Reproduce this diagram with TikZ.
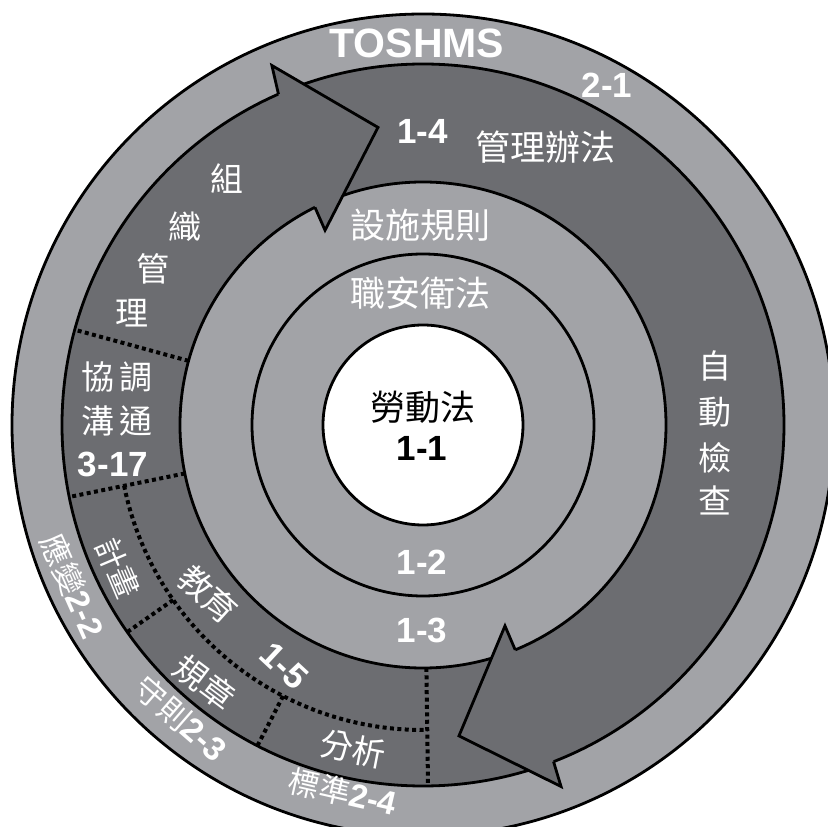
\documentclass[tikz,border=0pt]{standalone}
\usepackage{fontspec}
\setmainfont{Liberation Sans}
\newfontfamily\cjk{Noto Sans CJK TC}
\newfontfamily\numfont{Liberation Sans}
\definecolor{darkring}{RGB}{108,109,113}
\definecolor{lightring}{RGB}{162,163,167}
\newcommand\numtxt[2]{{\numfont\bfseries\fontsize{#1}{#1}\selectfont #2}}
\begin{document}
\begin{tikzpicture}[x=1pt,y=1pt,
  ringline/.style={line width=2.8pt, draw=black},
  divider/.style={line width=4pt, dash pattern=on 4pt off 3.4pt, draw=black},
  headline/.style={line width=2.8pt, draw=black, line join=miter, miter limit=10},
  cjklab/.style={font=\cjk\fontsize{#1}{#1}\selectfont, text=white, inner sep=0pt},
  cjklab/.default=33,
  numlab/.style={font=\numfont\bfseries\fontsize{#1}{#1}\selectfont, text=white, inner sep=0pt},
  numlab/.default=35
]
\useasboundingbox (-423,-402) rectangle (405,425);
\fill[white] (-423,-402) rectangle (405,425);
\clip (-423,-402) rectangle (405,425);

% rings
\fill[lightring] (0,0) circle (411);
\fill[darkring] (0,0) circle (361);
\fill[lightring] (0,0) circle (243);
\fill[white] (0,0) circle (100);
\draw[ringline] (0,0) circle (411);
\draw[ringline] (0,0) circle (361);
\draw[ringline] (0,0) circle (243);
\draw[ringline] (0,0) circle (171);
\draw[ringline] (0,0) circle (100);

% dotted dividers in the dark ring
\draw[divider] (164.7:243) -- (164.7:361);
\draw[divider] (191.5:243) -- (191.5:361);
\draw[divider] (191.5:305) arc[start angle=191.5, end angle=270.8, radius=305];
\draw[divider] (215:305) -- (215:361);
\draw[divider] (242.7:305) -- (242.7:361);
\draw[divider] (270.8:243) -- (270.8:361);

% arrow head A (top, pointing clockwise)
\fill[darkring] (113.6:361) -- (112.8:390) -- (98.6:301) -- (116.7:218) -- (116.4:243) -- cycle;
\draw[headline] (113.6:361) -- (112.8:390) -- (98.6:301) -- (116.7:218) -- (116.4:243);

% arrow head B (bottom right, pointing clockwise)
\fill[darkring] (-68.8:361) -- (-69.1:387) -- (-83.4:313) -- (-67.8:217) -- (-67.7:243) -- cycle;
\draw[headline] (-68.8:361) -- (-69.1:387) -- (-83.4:313) -- (-67.8:217) -- (-67.7:243);

% texts: outer ring
\node[numlab=41] (toshms) at (-6,382) {TOSHMS};
\node[numlab] (n21) at (184,340) {2-1};
\node[cjklab=31, rotate=-66] (n22) at (-350,-161) {應變\numtxt{33}{2-2}};
\node[cjklab=31, rotate=-41] (n23) at (-242,-294) {守則\numtxt{33}{2-3}};
\node[cjklab=31, rotate=-13] (n24) at (-80,-367) {標準\numtxt{33}{2-4}};

% texts: dark ring
\node[numlab] (n14) at (-0.5,293.5) {1-4};
\node[cjklab=35] (glbf) at (122.5,277.5) {管理辦法};
\node[cjklab] (zi) at (292,59) {自};
\node[cjklab] (dong) at (292,13) {動};
\node[cjklab] (jian) at (292,-33) {檢};
\node[cjklab] (cha) at (292,-75) {查};
\node[cjklab] (zu) at (-196,246) {組};
\node[cjklab] (zhi) at (-238,198) {織};
\node[cjklab] (guan) at (-270,156) {管};
\node[cjklab] (li) at (-291,112) {理};
\node[cjklab] (xt) at (-306,48) {協\hspace{5pt}調};
\node[cjklab] (gt) at (-306,4) {溝\hspace{5pt}通};
\node[numlab] (n317) at (-310,-39) {3-17};
\node[cjklab=31, rotate=-67] (jh) at (-305,-143) {計畫};
\node[cjklab, rotate=-37] (gz) at (-218,-257) {規章};
\node[cjklab, rotate=-11] (fx) at (-70,-324) {分析};
\node[cjklab, rotate=-42] (jy) at (-215,-169) {教育};
\node[numlab, rotate=-43] (n15) at (-139,-241) {1-5};

% texts: inner rings
\node[cjklab=35] (ssgz) at (-2,200) {設施規則};
\node[cjklab=35] (zawf) at (-2,131.5) {職安衛法};
\node[numlab] (n12) at (-1,-137) {1-2};
\node[numlab] (n13) at (-1,-205) {1-3};

% centre
\node[cjklab=35, text=black] (ldf) at (0.5,18) {勞動法};
\node[numlab, text=black] (n11) at (-1,-23.5) {1-1};
\end{tikzpicture}
\end{document}
